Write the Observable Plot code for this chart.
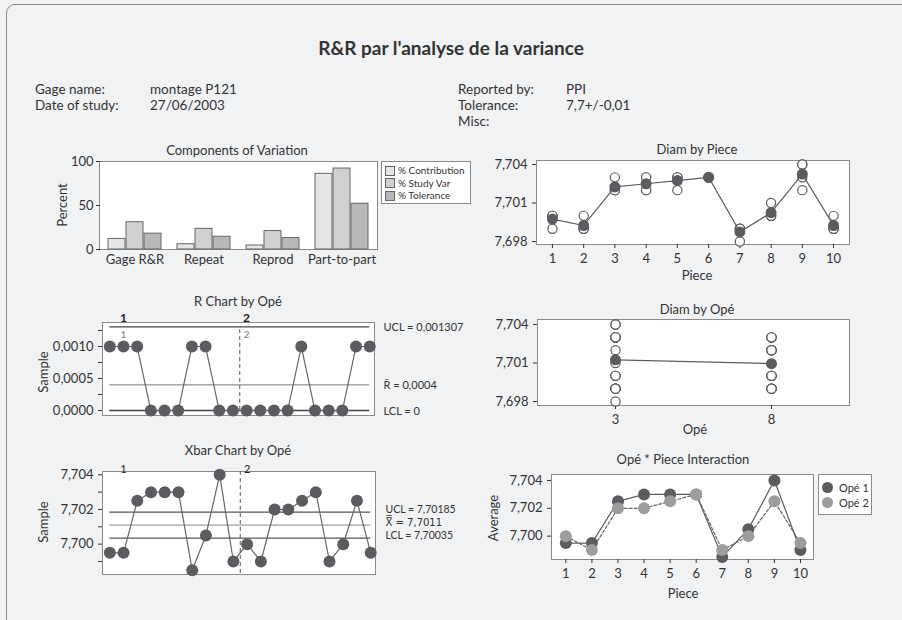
<!DOCTYPE html>
<html><head><meta charset="utf-8">
<script src="https://cdn.jsdelivr.net/npm/d3@7"></script>
<script src="https://cdn.jsdelivr.net/npm/@observablehq/plot@0.6"></script>
<style>
html,body{margin:0;padding:0;background:#f1f2f4;}
body{width:902px;height:620px;overflow:hidden;position:relative;font-family:Lato,"Open Sans",sans-serif;color:#333;}
#box{position:absolute;left:6px;top:4px;width:910px;height:640px;border:1.5px solid #8c8c8c;border-radius:9px;}
.t{position:absolute;white-space:nowrap;line-height:1;}
.leg{position:absolute;background:#fff;border:1px solid #8a8a8a;box-sizing:border-box;}
</style></head><body>
<div id="box"></div>
<div id="root"></div>
<script>
// ---------- data ----------
const pieces = [1,2,3,4,5,6,7,8,9,10];
const operators = ["Opé 1","Opé 2"];
const opeTicks = ["3","8"];
const op1Trial1 = [7.699,7.699,7.702,7.703,7.703,7.703,7.698,7.700,7.704,7.699];
const op1Trial2 = [7.700,7.700,7.703,7.703,7.703,7.703,7.699,7.701,7.704,7.699];
const op2Trial1 = [7.700,7.699,7.702,7.702,7.702,7.703,7.699,7.700,7.702,7.699];
const op2Trial2 = [7.700,7.699,7.702,7.702,7.703,7.703,7.699,7.700,7.703,7.700];
const components = ["Gage R&R","Repeat","Reprod","Part-to-part"];
const varSeries = ["% Contribution","% Study Var","% Tolerance"];
const pctContribution = [12,6,4.5,86];
const pctStudyVar = [31,23.5,21,92];
const pctTolerance = [18,14.5,13,52];
const rLimitValues = [0.001307,0.0004,0];
const rLimitLabels = ["UCL = 0,001307","R\u0304 = 0,0004","LCL = 0"];
const xLimitValues = [7.70185,7.7011,7.70035];
const xLimitLabelPos = [7.70200,7.70125,7.70050];
const xLimitLabels = ["UCL = 7,70185","X\u033F = 7,7011","LCL = 7,70035"];
const stageLabels = ["1","2"];
const stageLabelAt = [2,11];
const stageBreak = [10.5];

// ---------- derived ----------
const dark = "#5b5c60", light = "#9d9d9d", frameStroke = "#8a8a8a", ink = "#333";
const barColors = ["#e6e6e6","#d0d0d0","#b8b8b8"];
const loc = d3.formatLocale({decimal:",",thousands:" ",grouping:[3],currency:["",""]});
const f3 = loc.format(".3f"), f4 = loc.format(".4f");
const trials = [[op1Trial1,op1Trial2],[op2Trial1,op2Trial2]];
const subgroups = [];
trials.forEach((tr,o)=>pieces.forEach((p,k)=>{
  const vals = tr.map(t=>t[k]);
  subgroups.push({i:subgroups.length+1, op:o, opName:operators[o], piece:p, xbar:d3.mean(vals), range:d3.max(vals)-d3.min(vals)});
}));
const meas = [];
trials.forEach((tr,o)=>tr.forEach(t=>t.forEach((v,k)=>meas.push({op:o, ope:opeTicks[o], piece:pieces[k], value:v}))));
const pieceMeans = pieces.map(p=>({piece:p, mean:d3.mean(meas.filter(m=>m.piece===p),m=>m.value)}));
const opeMeans = opeTicks.map((t,o)=>({ope:t, mean:d3.mean(meas.filter(m=>m.op===o),m=>m.value)}));
const compSeries = [pctContribution,pctStudyVar,pctTolerance];
const compData = components.flatMap((c,i)=>varSeries.map((s,j)=>({cat:c, series:s, value:compSeries[j][i]})));
const rLimits = rLimitValues.map((v,i)=>({value:v, label:rLimitLabels[i], center:i===1}));
const xLimits = xLimitValues.map((v,i)=>({value:v, pos:xLimitLabelPos[i], label:xLimitLabels[i], center:i===1}));
const stages = stageLabels.map((s,i)=>({label:s, x:stageLabelAt[i]}));

// ---------- helpers ----------
const root = document.getElementById("root");
const font = "Lato, 'Open Sans', sans-serif";
const style = {fontFamily:font, fontSize:"13px", color:ink, background:"transparent", overflow:"visible"};
function put(el,left,top){el.style.position="absolute";el.style.left=left+"px";el.style.top=top+"px";root.appendChild(el);return el;}
function txt(s,x,y,o={}){
  const d=document.createElement("div");d.className="t";d.textContent=s;
  d.style.fontSize=(o.size||13)+"px";if(o.weight)d.style.fontWeight=o.weight;
  const ax=o.anchor==="start"?"0":"-50%";
  d.style.transform=`translate(${ax},-50%)`+(o.rotate?` rotate(${o.rotate}deg)`:"");
  d.style.left=x+"px";d.style.top=y+"px";root.appendChild(d);return d;
}
function box(l,t,w,h,cls){const d=document.createElement("div");d.className=cls;d.style.left=l+"px";d.style.top=t+"px";d.style.width=w+"px";d.style.height=h+"px";root.appendChild(d);return d;}

// ---------- header ----------
txt("R&R par l'analyse de la variance",451,47,{size:19,weight:"bold"});
txt("Gage name:",35,90,{anchor:"start",size:13.5});
txt("montage P121",150,90,{anchor:"start",size:13.5});
txt("Date of study:",35,106,{anchor:"start",size:13.5});
txt("27/06/2003",150,106,{anchor:"start",size:13.5});
txt("Reported by:",458,90,{anchor:"start",size:13.5});
txt("PPI",566,90,{anchor:"start",size:13.5});
txt("Tolerance:",458,106,{anchor:"start",size:13.5});
txt("7,7+/-0,01",566,106,{anchor:"start",size:13.5});
txt("Misc:",458,122,{anchor:"start",size:13.5});

// ---------- A: Components of Variation ----------
box(99,161,279,89,"leg");
const pA = Plot.plot({
  width:440,height:135,marginLeft:59,marginRight:103,marginTop:21,marginBottom:26,style,
  fx:{domain:components,padding:0},
  x:{domain:varSeries,paddingInner:0.08,paddingOuter:0.42,axis:null},
  y:{domain:[0,100]},
  color:{domain:varSeries,range:barColors},
  marks:[
    Plot.barY(compData,{fx:"cat",x:"series",y:"value",fill:"series",stroke:"#666",strokeWidth:1}),
    Plot.axisY([0,50,100],{tickSize:4,tickPadding:3,label:null,fontSize:13}),
    Plot.axisFx({anchor:"bottom",tickSize:0,tickPadding:5,label:null,fontSize:13})
  ]
});
put(pA,40,140);
txt("Components of Variation",237,150,{size:13});
txt("Percent",62,205,{size:13,rotate:-90});
box(381,161,90,43,"leg");
varSeries.forEach((s,i)=>{
  const y = 170+i*12.5;
  const sw=document.createElement("div");
  sw.style.cssText=`position:absolute;left:385px;top:${y-4.5}px;width:8px;height:8px;background:${barColors[i]};border:1px solid #666;`;
  root.appendChild(sw);
  txt(s,398,y,{anchor:"start",size:10});
});

// ---------- B: Diam by Piece ----------
const pB = Plot.plot({
  width:420,height:145,marginLeft:76,marginRight:31,marginTop:20,marginBottom:41,style,
  x:{domain:[0.49,10.51]},y:{domain:[7.69777,7.70431]},
  marks:[
    Plot.frame({fill:"white",stroke:frameStroke}),
    Plot.axisY([7.698,7.701,7.704],{tickSize:4,tickFormat:f3,label:null}),
    Plot.axisX(pieces,{tickSize:4,tickFormat:d=>String(d),label:null}),
    Plot.dot(meas,{x:"piece",y:"value",r:4.6,fill:"white",stroke:dark,strokeWidth:1.2}),
    Plot.line(pieceMeans,{x:"piece",y:"mean",stroke:dark,strokeWidth:1.2}),
    Plot.dot(pieceMeans,{x:"piece",y:"mean",r:5.5,fill:dark})
  ]
});
put(pB,460,140);
txt("Diam by Piece",697,149,{size:13});
txt("Piece",697,275,{size:13});

// ---------- C: R Chart ----------
const pC = Plot.plot({
  width:440,height:140,marginLeft:82,marginRight:86,marginTop:27,marginBottom:20,style,
  x:{domain:[0.466,20.35],axis:null},y:{domain:[-0.000078,0.001375]},
  marks:[
    Plot.frame({fill:"white",stroke:frameStroke}),
    Plot.axisY([0,0.0005,0.001],{tickSize:4,tickFormat:f4,label:null}),
    Plot.axisY([0.00025,0.00075,0.00125],{tickSize:4,tickFormat:()=>"",label:null}),
    Plot.ruleY(rLimits.filter(d=>!d.center),{y:"value",x1:1,x2:20,stroke:"#444",strokeWidth:1.3}),
    Plot.ruleY(rLimits.filter(d=>d.center),{y:"value",x1:1,x2:20,stroke:"#777",strokeWidth:1}),
    Plot.ruleX(stageBreak,{y1:0,y2:rLimitValues[0],stroke:"#555",strokeDasharray:"4,3"}),
    Plot.line(subgroups,{x:"i",y:"range",stroke:"#666",strokeWidth:1.2}),
    Plot.dot(subgroups,{x:"i",y:"range",r:6,fill:dark}),
    Plot.text(rLimits,{y:"value",text:"label",frameAnchor:"right",dx:9,dy:1,textAnchor:"start",fontSize:11}),
    Plot.text(stages,{x:"x",text:"label",frameAnchor:"top",dy:-9,fontWeight:"bold",fontSize:12,fill:"#222"}),
    Plot.text(stages,{x:"x",y:rLimitValues[0],text:"label",dy:8,fontSize:10,fill:"#777"})
  ]
});
put(pC,20,295);
txt("R Chart by Opé",238,301,{size:13});
txt("Sample",43,372,{size:13,rotate:-90});

// ---------- D: Xbar Chart ----------
const pD = Plot.plot({
  width:440,height:150,marginLeft:82,marginRight:85,marginTop:26,marginBottom:21,style,
  x:{domain:[0.466,20.35],axis:null},y:{domain:[7.69825,7.70419]},
  marks:[
    Plot.frame({fill:"white",stroke:frameStroke}),
    Plot.axisY([7.700,7.702,7.704],{tickSize:4,tickFormat:f3,label:null}),
    Plot.axisY([7.699,7.701,7.703],{tickSize:4,tickFormat:()=>"",label:null}),
    Plot.ruleY(xLimits.filter(d=>!d.center),{y:"value",x1:1,x2:20,stroke:"#555",strokeWidth:1.3}),
    Plot.ruleY(xLimits.filter(d=>d.center),{y:"value",x1:1,x2:20,stroke:"#a0a0a0",strokeWidth:1.2}),
    Plot.ruleX(stageBreak,{stroke:"#555",strokeDasharray:"4,3"}),
    Plot.line(subgroups,{x:"i",y:"xbar",stroke:"#666",strokeWidth:1.2}),
    Plot.dot(subgroups,{x:"i",y:"xbar",r:6,fill:dark}),
    Plot.text(xLimits.filter(d=>!d.center),{y:"pos",text:"label",frameAnchor:"right",dx:10,textAnchor:"start",fontSize:10.5}),
    Plot.text(xLimits.filter(d=>d.center),{y:"pos",text:"label",frameAnchor:"right",dx:10,textAnchor:"start",fontSize:10,fontFamily:"'DejaVu Sans', 'Noto Sans', sans-serif"}),
    Plot.text(stages,{x:"x",text:"label",frameAnchor:"top",dy:-6,fontSize:11,fill:"#222"})
  ]
});
put(pD,20,445);
txt("Xbar Chart by Opé",238,450,{size:13});
txt("Sample",43,522,{size:13,rotate:-90});

// ---------- E: Diam by Opé ----------
const pE = Plot.plot({
  width:420,height:140,marginLeft:77,marginRight:31,marginTop:19,marginBottom:35,style,
  x:{type:"point",domain:opeTicks,padding:0.5},y:{domain:[7.69769,7.70439]},
  marks:[
    Plot.frame({fill:"white",stroke:frameStroke}),
    Plot.axisY([7.698,7.701,7.704],{tickSize:4,tickFormat:f3,label:null}),
    Plot.axisX(opeTicks,{tickSize:4,label:null}),
    Plot.dot(meas,{x:"ope",y:"value",r:4.6,fill:"white",stroke:dark,strokeWidth:1.2}),
    Plot.line(opeMeans,{x:"ope",y:"mean",stroke:dark,strokeWidth:1.2}),
    Plot.dot(opeMeans,{x:"ope",y:"mean",r:5.5,fill:dark})
  ]
});
put(pE,460,300);
txt("Diam by Opé",697,309,{size:13});
txt("Opé",695,429,{size:13});

// ---------- F: Interaction ----------
const pF = Plot.plot({
  width:420,height:160,marginLeft:91,marginRight:67,marginTop:24,marginBottom:51,style,
  x:{domain:[0.45,10.5]},y:{domain:[7.69832,7.70443]},
  marks:[
    Plot.frame({fill:"white",stroke:frameStroke}),
    Plot.axisY([7.700,7.702,7.704],{tickSize:4,tickFormat:f3,label:null}),
    Plot.axisX(pieces,{tickSize:4,tickFormat:d=>String(d),label:null}),
    Plot.line(subgroups.filter(d=>d.op===0),{x:"piece",y:"xbar",stroke:dark,strokeWidth:1.2}),
    Plot.line(subgroups.filter(d=>d.op===1),{x:"piece",y:"xbar",stroke:"#666",strokeWidth:1.2,strokeDasharray:"3,2"}),
    Plot.dot(subgroups.filter(d=>d.op===0),{x:"piece",y:"xbar",r:6,fill:dark}),
    Plot.dot(subgroups.filter(d=>d.op===1),{x:"piece",y:"xbar",r:6,fill:light})
  ]
});
put(pF,460,450);
txt("Opé * Piece Interaction",683,459,{size:13});
txt("Piece",683,593,{size:13});
txt("Average",493,518,{size:13,rotate:-90});
box(818,474,54,41,"leg");
operators.forEach((s,i)=>{
  const y=487+i*15;
  const c=document.createElement("div");
  c.style.cssText=`position:absolute;left:${827-5.5}px;top:${y-5.5}px;width:11px;height:11px;border-radius:50%;background:${i?light:dark};`;
  root.appendChild(c);
  txt(s,839,y,{anchor:"start",size:11});
});
</script>
</body></html>
